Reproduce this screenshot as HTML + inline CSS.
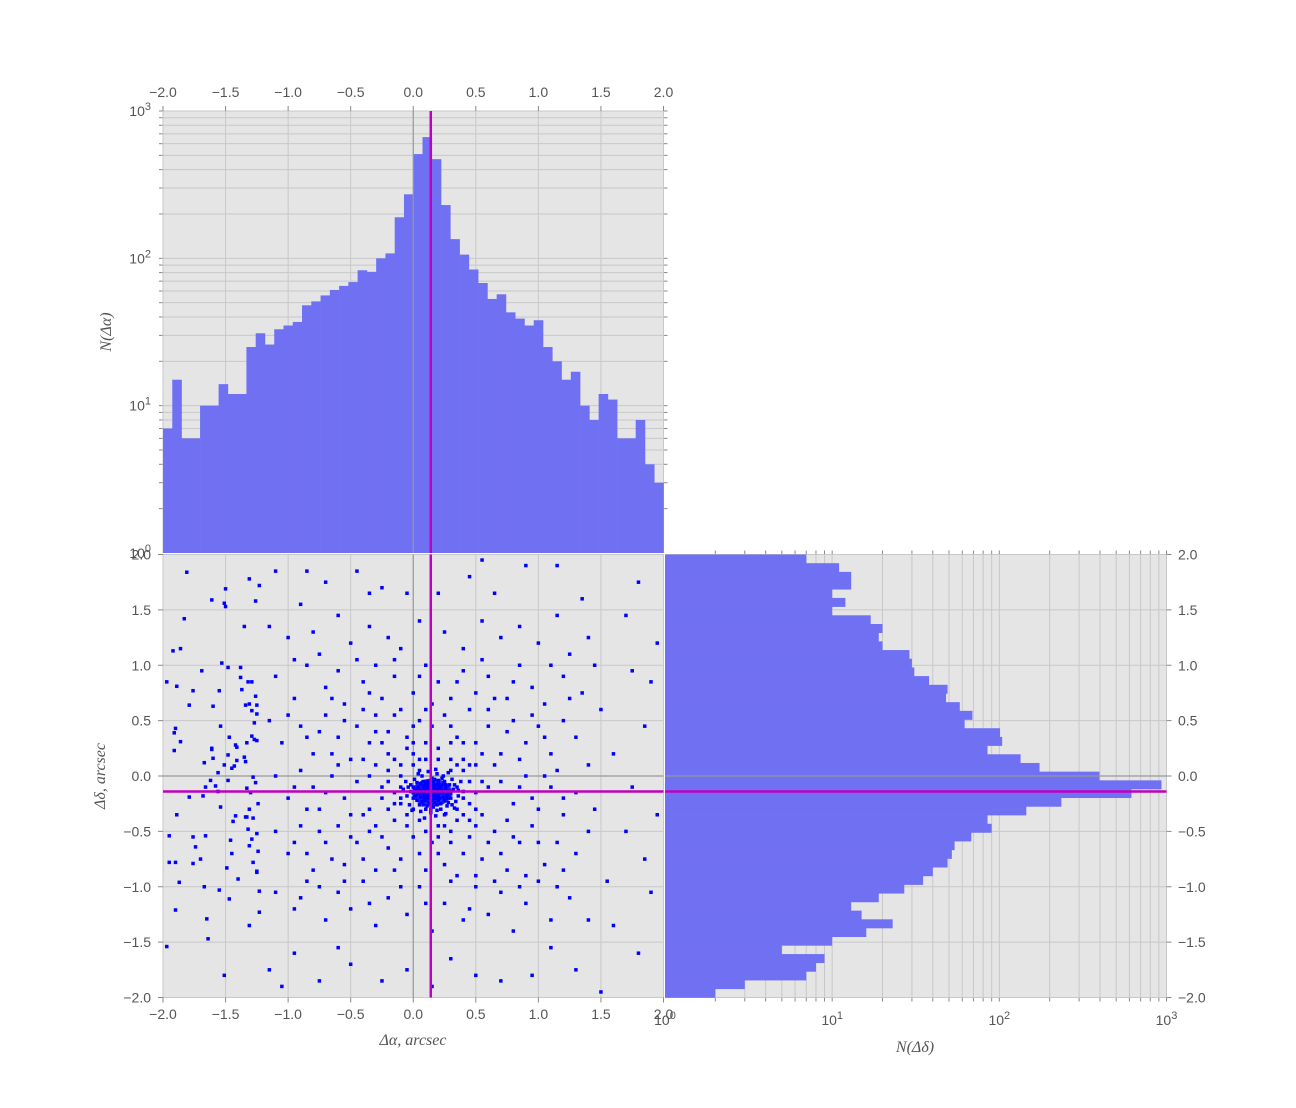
<!DOCTYPE html>
<html><head><meta charset="utf-8">
<style>
html,body{margin:0;padding:0;background:#fff;}
svg{display:block;font-family:"Liberation Sans",sans-serif;}
.tl{font-size:14px;fill:#555;}
.al{font-family:"Liberation Serif",serif;font-style:italic;font-size:16px;fill:#555;}
</style></head>
<body>
<svg id="fig" width="1296" height="1108" viewBox="0 0 1296 1108" xmlns="http://www.w3.org/2000/svg"></svg>
<script>
// ---- data ----
const topHistCounts = [7,15,6,6,10,10,14,12,12,25,31,26,33,35,37,48,51,56,61,65,69,83,81,100,108,190,272,510,665,471,230,135,106,84,68,53,57,43,39,35,38,25,20,15,17,10,8,12,11,6,6,8,4,3];
const rightHistCounts = [7,11,13,13,10,12,10,17,20,19,20,29,30,31,38,49,48,58,69,62,101,104,85,134,174,397,933,617,235,145,85,90,68,54,52,49,40,35,27,19,13,15,23,16,10,5,9,8,7,3,2];
const linearTicks = [-2.0,-1.5,-1.0,-0.5,0.0,0.5,1.0,1.5,2.0];
const linearTickLabels = ["\u22122.0","\u22121.5","\u22121.0","\u22120.5","0.0","0.5","1.0","1.5","2.0"];
const logDecades = [0,1,2,3];
const meanX = 0.14;
const meanY = -0.14;
const scatterPoints = [
[-1.81,1.84],[-1.97,0.85],[-1.92,1.13],[-1.86,1.15],[-1.83,1.42],[-1.89,0.81],[-1.76,0.77],[-1.79,0.64],[-1.69,0.95],[-1.90,0.43],[-1.91,0.39],[-1.86,0.31],[-1.91,0.23],[-1.61,1.59],[-1.50,1.69],[-1.51,1.56],[-1.50,1.53],[-1.35,1.35],[-1.31,1.78],[-1.26,1.58],[-1.23,1.72],[-1.53,1.02],[-1.48,0.98],[-1.38,0.98],[-1.38,0.89],[-1.37,0.78],[-1.32,0.85],[-1.29,0.85],[-1.34,0.64],[-1.31,0.65],[-1.26,0.72],[-1.25,0.64],[-1.29,0.59],[-1.25,0.56],[-1.27,0.48],[-1.55,0.77],[-1.60,0.63],[-1.54,0.45],[-1.47,0.35],[-1.29,0.36],[-1.27,0.33],[-1.25,0.32],[-1.33,0.30],[-1.42,0.28],[-1.41,0.26],[-1.61,0.24],[-1.61,0.25],[-1.67,0.12],[-1.60,0.16],[-1.48,0.19],[-1.51,0.10],[-1.45,0.07],[-1.43,0.09],[-1.41,0.14],[-1.35,0.17],[-1.34,0.13],[-1.56,0.03],[-1.62,-0.04],[-1.66,-0.10],[-1.58,-0.09],[-1.56,-0.14],[-1.79,-0.19],[-1.68,-0.18],[-1.48,-0.04],[-1.28,-0.01],[-1.26,-0.06],[-1.33,-0.11],[-1.30,-0.15],[-1.54,-0.28],[-1.89,-0.35],[-1.42,-0.36],[-1.44,-0.41],[-1.34,-0.37],[-1.33,-0.37],[-1.31,-0.30],[-1.28,-0.38],[-1.24,-0.25],[-1.95,-0.54],[-1.76,-0.55],[-1.66,-0.54],[-1.74,-0.64],[-1.70,-0.75],[-1.76,-0.79],[-1.95,-0.78],[-1.90,-0.78],[-1.87,-0.96],[-1.67,-1.00],[-1.46,-0.58],[-1.45,-0.70],[-1.49,-0.83],[-1.40,-0.93],[-1.32,-0.48],[-1.29,-0.57],[-1.31,-0.63],[-1.28,-0.78],[-1.25,-0.52],[-1.25,-0.86],[-1.25,-0.87],[-1.24,-0.68],[-1.55,-1.03],[-1.47,-1.11],[-1.90,-1.21],[-1.65,-1.29],[-1.31,-1.35],[-1.23,-1.23],[-1.23,-1.04],[-1.64,-1.47],[-1.97,-1.54],[-1.51,-1.80],
[-1.1,1.85],[-0.85,1.85],[-0.7,1.75],[-0.45,1.85],[-0.35,1.65],[-0.25,1.7],[-0.05,1.65],[0.2,1.65],[0.45,1.8],[0.55,1.95],[0.65,1.65],[0.9,1.9],[1.15,1.9],[1.35,1.6],[1.7,1.45],[1.8,1.75],[1.95,1.2],[1.9,0.85],[1.75,0.95],[1.5,0.6],[1.85,0.45],[1.6,0.2],[1.75,-0.1],[1.95,-0.35],[1.7,-0.5],[1.85,-0.75],[1.55,-0.95],[1.9,-1.05],[1.6,-1.35],[1.8,-1.6],[1.5,-1.95],[1.3,-1.75],[1.1,-1.55],[0.95,-1.8],[0.7,-1.85],[0.5,-1.8],[0.3,-1.65],[0.15,-1.9],[-0.05,-1.75],[-0.25,-1.85],[-0.5,-1.7],[-0.75,-1.85],[-1.05,-1.9],[-0.95,-1.6],[-1.15,-1.75],[-0.6,-1.55],
[-1.15,1.35],[-1.0,1.25],[-0.9,1.55],[-0.8,1.3],[-0.6,1.45],[-0.5,1.2],[-0.35,1.35],[-0.2,1.25],[-0.1,1.15],[0.05,1.4],[0.25,1.3],[0.4,1.15],[0.55,1.4],[0.7,1.25],[0.85,1.35],[1.0,1.2],[1.15,1.45],[1.25,1.1],[1.4,1.25],
[-1.1,0.9],[-0.95,0.7],[-0.85,1.0],[-0.7,0.8],[-0.6,0.95],[-0.55,0.65],[-0.4,0.85],[-0.3,1.0],[-0.25,0.7],[-0.15,0.9],[0.0,0.75],[0.1,1.0],[0.2,0.85],[0.3,0.7],[0.4,0.95],[0.5,0.75],[0.6,0.9],[0.75,0.7],[0.85,1.0],[0.95,0.8],[1.05,0.65],[1.2,0.9],[1.35,0.75],[1.45,1.0],
[-1.15,0.5],[-1.05,0.3],[-0.9,0.45],[-0.8,0.2],[-0.7,0.55],[-0.6,0.35],[-0.5,0.15],[-0.45,0.45],[-0.35,0.3],[-0.3,0.55],[-0.2,0.4],[-0.1,0.6],[-0.05,0.25],[0.05,0.5],[0.25,0.55],[0.35,0.35],[0.45,0.6],[0.5,0.3],[0.6,0.45],[0.7,0.2],[0.8,0.5],[0.9,0.3],[1.0,0.45],[1.1,0.2],[1.2,0.5],[1.3,0.35],[1.4,0.1],
[-1.1,0.0],[-1.0,-0.2],[-0.9,0.05],[-0.8,-0.1],[-0.75,-0.3],[-0.65,0.0],[-0.55,-0.2],[-0.45,-0.05],[-0.4,-0.35],[0.7,-0.05],[0.8,-0.25],[0.9,0.0],[1.0,-0.3],[1.1,-0.1],[1.2,-0.35],[1.3,-0.15],[1.45,-0.3],
[-1.1,-0.5],[-1.0,-0.7],[-0.9,-0.45],[-0.8,-0.85],[-0.7,-0.6],[-0.6,-0.45],[-0.55,-0.8],[-0.45,-0.6],[-0.35,-0.5],[-0.3,-0.85],[-0.2,-0.65],[-0.1,-0.75],[0.0,-0.55],[0.1,-0.85],[0.2,-0.7],[0.3,-0.6],[0.35,-0.9],[0.45,-0.55],[0.55,-0.75],[0.65,-0.5],[0.75,-0.85],[0.85,-0.6],[0.95,-0.45],[1.05,-0.8],[1.15,-0.6],[1.3,-0.7],[1.4,-0.5],
[-1.1,-1.05],[-0.95,-1.2],[-0.85,-0.95],[-0.7,-1.3],[-0.6,-1.05],[-0.5,-1.2],[-0.4,-0.95],[-0.3,-1.35],[-0.2,-1.1],[-0.05,-1.25],[0.05,-1.0],[0.15,-1.4],[0.25,-1.15],[0.4,-1.3],[0.5,-1.0],[0.6,-1.25],[0.7,-1.05],[0.8,-1.4],[0.9,-1.15],[1.0,-0.95],[1.1,-1.3],[1.25,-1.1],[1.4,-1.3],
[-0.3,0.1],[-0.25,-0.2],[-0.2,0.2],[-0.15,-0.4],[-0.1,0.0],[-0.05,0.35],[0.0,-0.3],[0.05,0.15],[0.1,0.3],[0.2,0.25],[0.3,0.15],[0.35,-0.4],[0.4,0.05],[0.45,-0.25],[0.5,0.1],[0.55,-0.35],[0.6,-0.1],[0.3,-0.5],[0.2,-0.45],[0.1,-0.5],[-0.05,-0.45],[-0.2,-0.05],[-0.25,0.3],[0.0,0.45],[0.15,0.45],[0.4,0.3],[0.5,-0.45],[-0.35,-0.3],[-0.4,0.15],[0.65,0.1],[-0.15,0.15],[-0.1,-0.25],[0.25,-0.35],[0.35,0.1],[0.45,-0.05],[0.55,0.2],[-0.2,-0.3],[0.0,0.2],[0.4,-0.35],[0.3,0.3],
[0.14,-0.14],[0.1,-0.1],[0.18,-0.17],[0.05,-0.12],[0.22,-0.1],[0.12,-0.2],[0.08,-0.05],[0.2,-0.22],[0.0,-0.15],[0.28,-0.14],[0.15,-0.02],[0.16,-0.28],[-0.02,-0.08],[0.3,-0.2],[0.25,-0.05],[0.03,-0.22],[0.1,-0.3],[0.27,-0.27],[-0.05,-0.18],[0.35,-0.1],[0.19,0.02],[0.07,0.0],[0.12,-0.08],[0.17,-0.11],[0.09,-0.17],[0.21,-0.15],[0.13,-0.24],[0.06,-0.19],[0.24,-0.19],[0.11,-0.13],[0.16,-0.06],[0.04,-0.1],[0.23,-0.08],[0.14,-0.33],[-0.08,-0.12],[0.36,-0.18],[0.01,-0.03],[0.31,-0.03],[-0.03,-0.26],[0.33,-0.29],[0.18,0.06],[0.09,-0.38],[0.26,-0.34],[-0.1,-0.2],[0.4,-0.14],[0.05,0.05],[0.28,0.03],[0.2,-0.04],[0.08,-0.26],[0.19,-0.31],[0.15,-0.18],[0.13,-0.09],[0.11,-0.16],[0.17,-0.14],[0.12,-0.12],[0.16,-0.2],[0.1,-0.22],[0.2,-0.12],[0.07,-0.13],[0.22,-0.25],[0.02,-0.18],[0.26,-0.11],[0.14,-0.04],[0.14,-0.26],[-0.06,-0.05],[0.34,-0.23],[0.29,-0.08],[-0.01,-0.31],[0.04,0.02],[0.24,0.0],[0.38,-0.05],[-0.1,-0.1],[0.12,0.04],[0.18,-0.36],[0.06,-0.32],[0.32,-0.12],[0.0,-0.1],[0.25,-0.22],[0.08,-0.09],[0.2,-0.18],[0.15,-0.1],[0.11,-0.05],[0.23,-0.13],[0.05,-0.15],[0.17,-0.24],[0.09,-0.2],[0.13,-0.17],[0.19,-0.08],[0.03,-0.06],[0.27,-0.17],
[-0.95,1.05],[-0.75,1.1],[-0.65,0.7],[-0.45,1.05],[-0.35,0.75],[-0.15,1.05],[0.05,0.9],[0.15,0.65],[0.35,0.85],[0.55,1.05],[0.65,0.7],[0.8,0.85],[1.1,1.0],[1.25,0.7],[-1.0,0.55],[-0.85,0.35],[-0.75,0.4],[-0.65,0.2],[-0.55,0.5],[-0.4,0.6],[-0.3,0.4],[-0.15,0.55],[0.1,0.6],[0.3,0.45],[0.6,0.6],[0.75,0.4],[0.85,0.15],[0.95,0.55],[1.05,0.35],[1.15,0.05],[-0.95,-0.1],[-0.85,-0.3],[-0.7,-0.15],[-0.6,0.1],[-0.5,-0.35],[-0.35,0.0],[-0.3,-0.45],[0.75,-0.4],[0.85,-0.1],[0.95,-0.2],[1.05,0.0],[1.2,-0.2],[-0.95,-0.6],[-0.85,-0.7],[-0.75,-0.5],[-0.65,-0.75],[-0.5,-0.55],[-0.4,-0.75],[-0.25,-0.55],[-0.15,-0.85],[0.05,-0.7],[0.15,-0.6],[0.25,-0.8],[0.4,-0.7],[0.5,-0.9],[0.6,-0.6],[0.7,-0.7],[0.8,-0.55],[0.9,-0.9],[1.0,-0.6],[1.2,-0.85],[-0.9,-1.1],[-0.75,-1.0],[-0.55,-0.95],[-0.35,-1.15],[-0.1,-1.0],[0.1,-1.15],[0.3,-0.95],[0.45,-1.2],[0.65,-0.95],[0.85,-1.0],[1.15,-1.0],
[-0.2,0.05],[-0.15,-0.15],[-0.1,0.1],[-0.05,-0.35],[0.0,0.1],[0.05,-0.4],[0.1,0.15],[0.2,0.15],[0.25,-0.45],[0.3,0.05],[0.35,-0.3],[0.4,-0.2],[0.45,0.1],[0.5,-0.15],[0.5,-0.3],[0.45,-0.4],[0.4,0.15],[-0.25,-0.1],[-0.15,-0.25],[0.0,0.3],[0.2,-0.55],[0.55,-0.05],
[0.16,-0.15],[0.13,-0.13],[0.18,-0.12],[0.1,-0.18],[0.21,-0.2],[0.08,-0.15],[0.15,-0.22],[0.12,-0.06],[0.24,-0.15],[0.04,-0.16],[0.19,-0.26],[0.07,-0.23],[0.26,-0.08],[0.02,-0.12],[0.3,-0.16],[0.17,-0.03],[0.11,-0.27],[-0.02,-0.14],[0.33,-0.08],[0.22,-0.3],[0.06,-0.07],[0.28,-0.24],[0.14,-0.3],[0.0,-0.2],[0.36,-0.13],[0.2,-0.07],[0.09,-0.12],[0.15,-0.16],[0.13,-0.2],[0.18,-0.2],[-0.04,-0.1],[0.31,-0.26],[0.23,-0.02],[0.05,-0.26],[0.27,-0.2],[0.1,-0.07],[0.19,-0.14],[0.12,-0.17],[0.16,-0.09],[0.21,-0.11]
];

// ---- geometry ----
const L=163, R=663.5, TT=111, TB=553, ST=554.5, SB=997.5, RL=665, RR=1166.5;
const xLin = v => L + (v+2)/4*(R-L);
const yLin = v => ST + (2-v)/4*(SB-ST);
const yLogTop = v => TB - Math.log10(v)/3*(TB-TT);
const xLogRight = v => RL + Math.log10(v)/3*(RR-RL);

const svg=document.getElementById('fig');
const NS='http://www.w3.org/2000/svg';
function mk(tag,attrs,parent){const e=document.createElementNS(NS,tag);for(const k in attrs)e.setAttribute(k,attrs[k]);(parent||svg).appendChild(e);return e;}
const GRID='#c8c8c8', TICK='#888', BAR='#7070f2';

function panel(name,x,y,w,h){
  const g=mk('g',{});
  
  
  mk('rect',{x:x,y:y,width:w,height:h,fill:'#e5e5e5'},g);
  return g;
}
function logLabel(parent,x,y,exp,anchor,name){
  const t=mk('text',{x:x,y:y,'text-anchor':anchor,class:'tl'},parent);
  
  
  t.appendChild(document.createTextNode('10'));
  const s=mk('tspan',{dy:-6,'font-size':'11'},t);
  s.textContent=String(exp);
  return t;
}

// ===== top histogram =====
const gTop=panel('top-histogram',L,TT,R-L,TB-TT);
for(const d of logDecades){ for(let m=1;m<10;m++){ const v=m*Math.pow(10,d); if(v>1000) break; if(v===1) continue;
  const y=yLogTop(v); mk('line',{x1:L,x2:R,y1:y,y2:y,stroke:GRID,'stroke-width':1},gTop);
  mk('line',{x1:L-4,x2:L,y1:y,y2:y,stroke:TICK},gTop); mk('line',{x1:R,x2:R+4,y1:y,y2:y,stroke:TICK},gTop);} }
for(const t of linearTicks){const x=xLin(t); mk('line',{x1:x,x2:x,y1:TT,y2:TB,stroke:GRID},gTop); mk('line',{x1:x,x2:x,y1:TT-5,y2:TT,stroke:TICK},gTop);}
const tbw=4/topHistCounts.length;
topHistCounts.forEach((c,i)=>{
  const x0=xLin(-2+i*tbw), x1=xLin(-2+(i+1)*tbw), y=yLogTop(c);
  const r=mk('rect',{x:x0,y:y,width:x1-x0+0.3,height:TB-y,fill:BAR},gTop);
  
  
});
mk('line',{x1:xLin(0),x2:xLin(0),y1:TT,y2:TB,stroke:'#999','stroke-width':1.2},gTop);
mk('line',{x1:xLin(meanX),x2:xLin(meanX),y1:TT,y2:TB,stroke:'#c000c0','stroke-width':2.5},gTop);
linearTicks.forEach((t,i)=>{const e=mk('text',{x:xLin(t),y:97,'text-anchor':'middle',class:'tl'},gTop);
    e.textContent=linearTickLabels[i];});
logDecades.forEach(d=>logLabel(gTop,151,yLogTop(Math.pow(10,d))+5,d,'end','top-y-tick-label'));

// ===== scatter =====
const gS=panel('scatter-plot',L,ST,R-L,SB-ST);
for(const t of linearTicks){const x=xLin(t),y=yLin(t);
  mk('line',{x1:x,x2:x,y1:ST,y2:SB,stroke:GRID},gS); mk('line',{x1:L,x2:R,y1:y,y2:y,stroke:GRID},gS);
  mk('line',{x1:x,x2:x,y1:SB,y2:SB+5,stroke:TICK},gS); mk('line',{x1:L-5,x2:L,y1:y,y2:y,stroke:TICK},gS);}
mk('line',{x1:xLin(0),x2:xLin(0),y1:ST,y2:SB,stroke:'#999','stroke-width':1.2},gS);
mk('line',{x1:L,x2:R,y1:yLin(0),y2:yLin(0),stroke:'#999','stroke-width':1.2},gS);
scatterPoints.forEach(p=>{
  const c=mk('rect',{x:xLin(p[0])-1.75,y:yLin(p[1])-1.75,width:3.5,height:3.5,fill:'#0000ff'},gS);
  
  
});
mk('ellipse',{cx:xLin(0.15),cy:yLin(-0.15),rx:20,ry:14,fill:'#0000ff','fill-opacity':0.85},gS);
mk('line',{x1:xLin(meanX),x2:xLin(meanX),y1:ST,y2:SB,stroke:'#c000c0','stroke-width':2.5},gS);
mk('line',{x1:L,x2:R,y1:yLin(meanY),y2:yLin(meanY),stroke:'#c000c0','stroke-width':2.5},gS);
linearTicks.forEach((t,i)=>{
  const e=mk('text',{x:xLin(t),y:1019,'text-anchor':'middle',class:'tl'},gS);
    e.textContent=linearTickLabels[i];
  const f=mk('text',{x:151,y:yLin(t)+5,'text-anchor':'end',class:'tl'},gS);
    f.textContent=linearTickLabels[i];
});

// ===== right histogram =====
const gR=panel('right-histogram',RL,ST,RR-RL,SB-ST);
for(const d of logDecades){ for(let m=1;m<10;m++){ const v=m*Math.pow(10,d); if(v>1000) break; if(v===1) continue;
  const x=xLogRight(v); mk('line',{x1:x,x2:x,y1:ST,y2:SB,stroke:GRID},gR);
  mk('line',{x1:x,x2:x,y1:SB,y2:SB+4,stroke:TICK},gR); mk('line',{x1:x,x2:x,y1:ST-4,y2:ST,stroke:TICK},gR);} }
for(const t of linearTicks){const y=yLin(t); mk('line',{x1:RL,x2:RR,y1:y,y2:y,stroke:GRID},gR); mk('line',{x1:RR,x2:RR+5,y1:y,y2:y,stroke:TICK},gR);}
const rbw=4/rightHistCounts.length;
rightHistCounts.forEach((c,i)=>{
  const y0=yLin(2-i*rbw), y1=yLin(2-(i+1)*rbw), x=xLogRight(c);
  const r=mk('rect',{x:RL,y:y0,width:x-RL,height:y1-y0+0.3,fill:BAR},gR);
  
  
});
mk('line',{x1:RL,x2:RR,y1:yLin(0),y2:yLin(0),stroke:'#999','stroke-width':1.2},gR);
mk('line',{x1:RL,x2:RR,y1:yLin(meanY),y2:yLin(meanY),stroke:'#c000c0','stroke-width':2.5},gR);
logDecades.forEach(d=>logLabel(gR,xLogRight(Math.pow(10,d)),1025,d,'middle','right-x-tick-label'));
linearTicks.forEach((t,i)=>{const e=mk('text',{x:1178,y:yLin(t)+5,'text-anchor':'start',class:'tl'},gR);
    e.textContent=linearTickLabels[i];});

// ===== axis titles =====
function title(txt,x,y,rot,name){
  const t=mk('text',{x:x,y:y,'text-anchor':'middle',class:'al',transform:rot?`rotate(-90 ${x} ${y})`:''});
    t.textContent=txt; return t;}
title('N(\u0394\u03b1)',111,332,true,'top-y-axis-title');
title('\u0394\u03b4, arcsec',105,776,true,'scatter-y-axis-title');
title('\u0394\u03b1, arcsec',413,1045,false,'scatter-x-axis-title');
title('N(\u0394\u03b4)',915,1052,false,'right-x-axis-title');
</script>
</body></html>
